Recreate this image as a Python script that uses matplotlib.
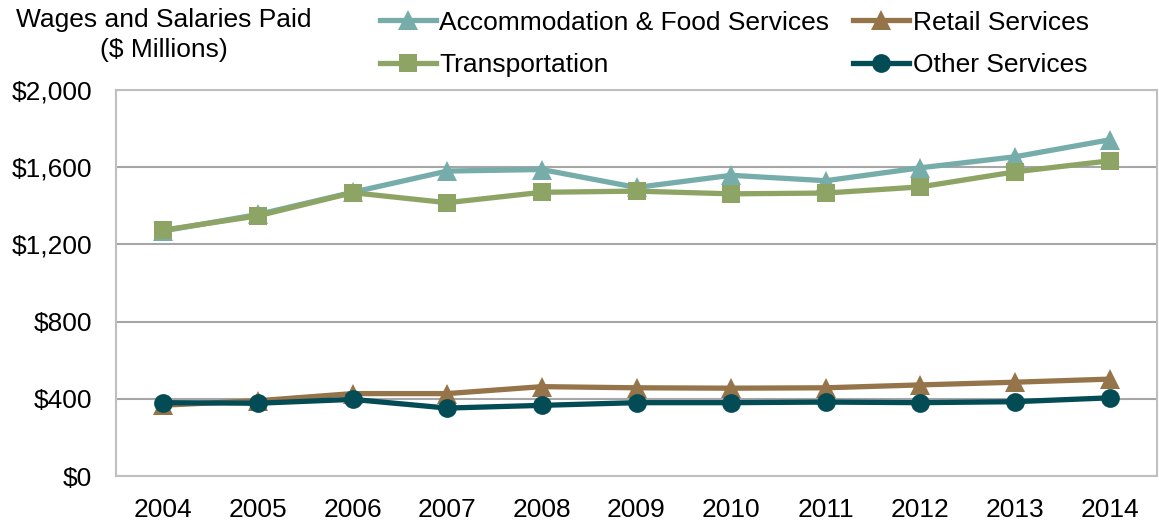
import numpy as np
import matplotlib
matplotlib.use("Agg")
import matplotlib.pyplot as plt
from matplotlib.ticker import FuncFormatter

plt.rcParams["font.family"] = ["Liberation Sans", "DejaVu Sans"]

years = ["2004", "2005", "2006", "2007", "2008", "2009", "2010", "2011", "2012", "2013", "2014"]
accommodation = [1270, 1355, 1470, 1580, 1588, 1495, 1558, 1530, 1597, 1654, 1742]
transportation = [1274, 1348, 1468, 1416, 1470, 1476, 1462, 1466, 1498, 1576, 1633]
retail = [367, 390, 427, 427, 463, 457, 455, 457, 472, 486, 502]
other = [380, 377, 397, 352, 366, 380, 380, 383, 380, 385, 405]

FS = 19

fig = plt.figure(figsize=(11.59, 5.22), dpi=100)
ax = fig.add_axes([116 / 1159, 1 - 476 / 522, (1157 - 116) / 1159, (476 - 90) / 522])

x = np.arange(len(years))
series = [
    ("Accommodation & Food Services", accommodation, "#76ADAA", "^", 14),
    ("Retail Services", retail, "#957449", "^", 14),
    ("Transportation", transportation, "#8EA464", "s", 13.5),
    ("Other Services", other, "#034C56", "o", 13.5),
]
handles = {}
for name, vals, col, mk, ms in series:
    h, = ax.plot(x, vals, color=col, lw=3.8, marker=mk, markersize=ms,
                 markeredgewidth=0, label=name)
    handles[name] = h

ax.set_xlim(-0.5, len(years) - 0.5)
ax.set_ylim(0, 2000)
ax.set_yticks(range(0, 2001, 400))
ax.yaxis.set_major_formatter(FuncFormatter(lambda v, p: f"${v:,.0f}"))
ax.set_xticks(x)
ax.set_xticklabels(years)
ax.tick_params(length=0, labelsize=FS)
ax.tick_params(axis="y", pad=17)
ax.tick_params(axis="x", pad=15.5)
ax.grid(axis="y", color="#A6A6A6", lw=1.5)
ax.set_axisbelow(True)
for s in ax.spines.values():
    s.set_color("#BFBFBF")
    s.set_linewidth(1.5)

fig.text(164 / 1159, 1 - 35 / 522, "Wages and Salaries Paid\n($ Millions)", ha="center",
         va="center", fontsize=FS, linespacing=1.35)

order = ["Accommodation & Food Services", "Transportation", "Retail Services", "Other Services"]
fig.legend([handles[n] for n in order], order, ncol=2, frameon=False, fontsize=FS,
           loc="upper left", bbox_to_anchor=(369 / 1159, 1.0), handlelength=2.15,
           handletextpad=0.12, columnspacing=0.88, labelspacing=0.69, borderaxespad=0)

fig.savefig("out.png", dpi=100)
